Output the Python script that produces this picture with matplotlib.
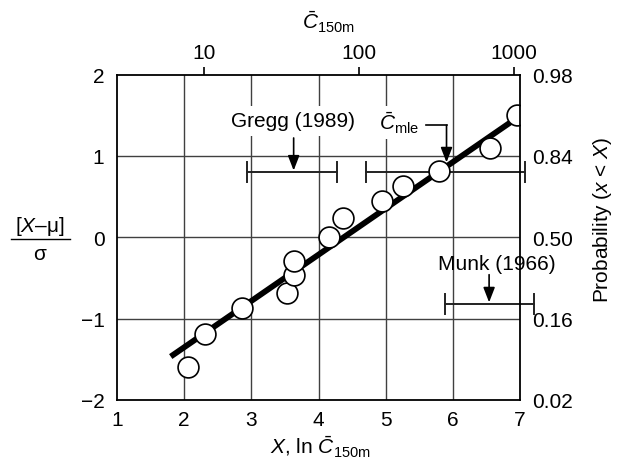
import numpy as np
import matplotlib
matplotlib.use("Agg")
import matplotlib.pyplot as plt
from matplotlib.lines import Line2D

plt.rcParams['font.family'] = ['Liberation Sans', 'DejaVu Sans']
plt.rcParams['mathtext.fontset'] = 'custom'
plt.rcParams['mathtext.rm'] = 'Liberation Sans'
plt.rcParams['mathtext.it'] = 'Liberation Sans:italic'
plt.rcParams['mathtext.sf'] = 'Liberation Sans'

# Data (x = ln C150m, y = standardized value)
x_pts = [2.06, 2.31, 2.855, 3.525, 3.63, 3.64, 4.155, 4.36, 4.94, 5.26, 5.80, 6.55, 6.96]
y_pts = [-1.60, -1.19, -0.875, -0.68, -0.46, -0.29, 0.0, 0.24, 0.44, 0.634, 0.817, 1.10, 1.50]
fit_x = [1.80, 6.96]
fit_y = [-1.466, 1.47]

# Range bars: (low, high, y, arrow x)
gregg = [2.94, 4.27, 0.80, 3.63]
cmle = [4.705, 7.08, 0.80, 5.906]
munk = [5.88, 7.21, -0.82, 6.54]

x_ticks = [1, 2, 3, 4, 5, 6, 7]
y_ticks = [-2, -1, 0, 1, 2]
y_ticklabels = ['\u22122', '\u22121', '0', '1', '2']
prob_labels = ['0.02', '0.16', '0.50', '0.84', '0.98']
top_vals = [10, 100, 1000]
top_labels = ['10', '100', '1000']

FS = 15

fig = plt.figure(figsize=(6.2, 4.64), dpi=100)
ax = fig.add_axes([117/620, (464-401)/464, (520-117)/620, (401-75.5)/464])
ax.set_xlim(1, 7)
ax.set_ylim(-2, 2)

for s in ax.spines.values():
    s.set_linewidth(1.3)
    s.set_zorder(5)

ax.set_xticks(x_ticks)
ax.set_xticklabels([str(v) for v in x_ticks], fontsize=FS)
ax.set_yticks(y_ticks)
ax.set_yticklabels(y_ticklabels, fontsize=FS)
ax.tick_params(axis='x', length=0, pad=7)
ax.tick_params(axis='y', length=0, pad=9)

# grid
for xv in x_ticks[1:-1]:
    ax.axvline(xv, color='#404040', lw=1.0, zorder=1)
for yv in y_ticks[1:-1]:
    ax.axhline(yv, color='#404040', lw=1.0, zorder=1)

# right axis
axr = ax.twinx()
axr.set_ylim(-2, 2)
axr.set_yticks(y_ticks)
axr.set_yticklabels(prob_labels, fontsize=FS)
axr.tick_params(axis='y', length=0, pad=9)
for s in axr.spines.values():
    s.set_visible(False)

# top axis
axt = ax.twiny()
axt.set_xlim(1, 7)
axt.set_xticks(np.log(top_vals))
axt.set_xticklabels(top_labels, fontsize=FS)
axt.tick_params(axis='x', length=6, width=1.2, pad=3, direction='out')
for s in axt.spines.values():
    s.set_visible(False)

# fit line and points
ax.plot(fit_x, fit_y, color='black', lw=4.2, solid_capstyle='butt', zorder=3)
ax.plot(x_pts, y_pts, 'o', ms=15, mfc='white', mec='black', mew=1.2, zorder=4)

def rangebar(b):
    lo, hi, yv, xa = b
    ax.plot([lo, hi], [yv, yv], color='#222222', lw=1.4, clip_on=False, zorder=3)
    for xx in (lo, hi):
        ax.plot([xx, xx], [yv - 0.125, yv + 0.125], color='#222222', lw=1.4,
                clip_on=False, zorder=3)

rangebar(gregg)
rangebar(cmle)
rangebar(munk)

arrowprops = dict(arrowstyle='-|>,head_length=0.9,head_width=0.35', color='black',
                  lw=1.2, shrinkA=0, shrinkB=0)

ax.annotate('', xy=(gregg[3], gregg[2] + 0.02), xytext=(gregg[3], 1.22),
            arrowprops=arrowprops, zorder=6)
ax.text(gregg[3] - 0.01, 1.43, 'Gregg (1989)', fontsize=FS, ha='center', va='center',
        zorder=6, bbox=dict(facecolor='white', edgecolor='none', pad=4))

ax.annotate('', xy=(munk[3], munk[2] + 0.02), xytext=(munk[3], -0.46),
            arrowprops=arrowprops, zorder=6)
ax.text(6.65, -0.32, 'Munk (1966)', fontsize=FS, ha='center', va='center', zorder=6)

# C_mle bent arrow
ax.plot([5.6, cmle[3]], [1.376, 1.376], color='black', lw=1.2, zorder=6)
ax.annotate('', xy=(cmle[3], 0.92), xytext=(cmle[3], 1.376),
            arrowprops=arrowprops, zorder=6)
ax.text(5.2, 1.41, r'$\bar{C}_{\mathrm{mle}}$', fontsize=FS, ha='center', va='center',
        zorder=6, bbox=dict(facecolor='white', edgecolor='none', pad=3))

# labels
fig.text(328/620, 1 - 22/464, r'$\bar{C}_{\mathrm{150m}}$', fontsize=FS, ha='center', va='center')
fig.text(320/620, 1 - 447/464, r'$X$, ln $\bar{C}_{\mathrm{150m}}$', fontsize=FS,
         ha='center', va='center')
fig.text(602/620, 1 - 220/464, r'Probability ($x$ < $X$)', fontsize=FS, rotation=90,
         ha='center', va='center')

# left fraction label
fig.text(40/620, 1 - 227/464, r'[$X$–μ]', fontsize=FS, ha='center', va='center')
fig.text(40/620, 1 - 254/464, 'σ', fontsize=FS, ha='center', va='center')
fig.add_artist(Line2D([11/620, 70/620], [1 - 239.5/464, 1 - 239.5/464], color='black', lw=1.0))

fig.savefig('out.png', dpi=100)
